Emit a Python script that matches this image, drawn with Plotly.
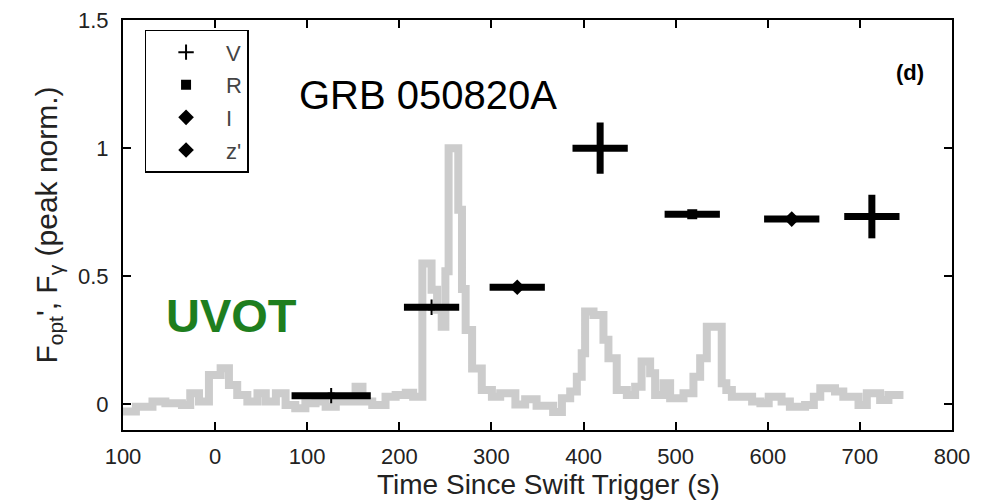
import plotly.graph_objects as go

# ---- gamma-ray light curve (gray step curve), bin start times and peak-normalised flux
gamma_t = [-101, -86, -68, -54, -36, -27, -17.5, -6.7, 6, 15, 24, 35, 46, 55, 66, 76.5, 87, 98,
           109, 120, 131, 152.5, 160, 170.6, 185, 196, 207, 215, 225, 235, 241, 246, 250, 253.5,
           264, 268, 272, 279, 289.5, 300.5, 309.5, 326, 336.6, 349, 367, 376.5, 385.5, 392.7,
           398, 401.7, 410.8, 421.6, 427, 436, 447, 456, 463, 472.3, 477.7, 486.8, 494, 508.5,
           519.3, 526.6, 533.8, 550, 555, 561, 583, 592, 601, 615, 624, 640.5, 650, 657, 673,
           682, 698.5, 707.5, 722, 731, 747.3]
gamma_f = [-0.028, -0.009, 0.011, 0.004, -0.002, 0.043, 0.011, 0.115, 0.141, 0.076, 0.037, 0.011,
           0.043, 0.011, 0.043, -0.002, -0.015, 0.004, 0.011, -0.009, 0.011, 0.069, 0.011, -0.002,
           0.030, 0.037, 0.045, 0.030, 0.55, 0.447, 0.369, 0.303, 0.52, 1.0, 0.76, 0.45, 0.29,
           0.14, 0.056, 0.030, 0.043, 0.0, 0.02, -0.005, -0.03, 0.024, 0.05, 0.108, 0.2, 0.362,
           0.349, 0.252, 0.18, 0.056, 0.037, 0.069, 0.167, 0.121, 0.037, 0.082, 0.024, 0.043,
           0.108, 0.18, 0.303, 0.082, 0.056, 0.03, 0.011, 0.004, 0.03, 0.011, -0.009, -0.002,
           0.03, 0.063, 0.05, 0.03, -0.002, 0.043, 0.017, 0.037, 0.037]

# ---- UVOT optical points (time, flux, half-width in time, flux error)
v_t = [126, 235, 418, 713]
v_f = [0.034, 0.379, 1.0, 0.733]
v_dt = [43, 30, 30, 30]
v_df = [0.012, 0.012, 0.1, 0.085]

r_t = [518]
r_f = [0.742]
r_dt = [30]

i_t = [328]
i_f = [0.457]
i_dt = [30]

z_t = [626]
z_f = [0.723]
z_dt = [30]

x_ticks = [-100, 0, 100, 200, 300, 400, 500, 600, 700, 800]
x_ticktext = ["100", "0", "100", "200", "300", "400", "500", "600", "700", "800"]
y_ticks = [0, 0.5, 1, 1.5]
y_ticktext = ["0", "0.5", "1", "1.5"]

FONT = "Liberation Sans, Arial, sans-serif"
EW = 7  # error bar thickness

fig = go.Figure()

fig.add_trace(go.Scatter(x=gamma_t, y=gamma_f, mode="lines", line=dict(shape="hv", color="#cccccc", width=8),
                         showlegend=False, hoverinfo="skip"))

def add_pts(name, t, f, dt, df, symbol, size, lw=0):
    fig.add_trace(go.Scatter(
        x=t, y=f, mode="markers", name=name, legendgroup=name,
        marker=dict(symbol=symbol, size=size, color="black", line=dict(color="black", width=lw)),
        error_x=dict(type="data", array=dt, color="black", thickness=EW, width=0),
        error_y=(dict(type="data", array=df, color="black", thickness=EW, width=0) if df is not None else None),
    ))

add_pts("V", v_t, v_f, v_dt, v_df, "cross-thin", 11, 2)
add_pts("R", r_t, r_f, r_dt, None, "square", 10)
add_pts("I", i_t, i_f, i_dt, None, "diamond", 12)
add_pts("z'", z_t, z_f, z_dt, None, "diamond", 12)

fig.add_annotation(x=0.21, y=0.817, xref="paper", yref="paper", text="GRB 050820A", showarrow=False,
                   font=dict(family=FONT, size=40, color="black"), xanchor="left", yanchor="middle")
fig.add_annotation(x=0.05, y=0.28, xref="paper", yref="paper", text="<b>UVOT</b>", showarrow=False,
                   font=dict(family=FONT, size=47, color="#1e7e1e"), xanchor="left", yanchor="middle")
fig.add_annotation(x=0.949, y=0.873, xref="paper", yref="paper", text="<b>(d)</b>", showarrow=False,
                   font=dict(family=FONT, size=22, color="black"), xanchor="center", yanchor="middle")
# x-axis title, placed directly under the tick labels
fig.add_annotation(x=0.513, y=-0.1756, xref="paper", yref="paper", text="Time Since Swift Trigger (s)",
                   showarrow=False, font=dict(family=FONT, size=28, color="#222"),
                   xanchor="center", yanchor="bottom")

axis_common = dict(showline=True, linecolor="black", linewidth=2, mirror="ticks", ticks="inside",
                   ticklen=8, tickwidth=1.5, tickcolor="black", showgrid=False, zeroline=False,
                   automargin=False, tickfont=dict(family=FONT, size=22, color="#222"))

fig.update_xaxes(range=[-100, 800], tickvals=x_ticks, ticktext=x_ticktext, ticklabelstandoff=6,
                 **axis_common)
fig.update_yaxes(range=[-0.1, 1.5], tickvals=y_ticks, ticktext=y_ticktext, ticklabelstandoff=8,
                 title=dict(text="F<sub>opt</sub>', F<sub>γ</sub> (peak norm.)",
                            font=dict(family=FONT, size=30, color="#222"), standoff=12),
                 **axis_common)

fig.update_layout(
    width=991, height=502,
    margin=dict(l=123, r=39, t=20, b=72),
    plot_bgcolor="white", paper_bgcolor="white",
    legend=dict(x=0.026, y=0.976, xanchor="left", yanchor="top", bordercolor="black", borderwidth=1.5,
                bgcolor="white", font=dict(family=FONT, size=22, color="#444"), tracegroupgap=1,
                itemsizing="trace", itemwidth=70),
)

fig.write_html("out.html")
